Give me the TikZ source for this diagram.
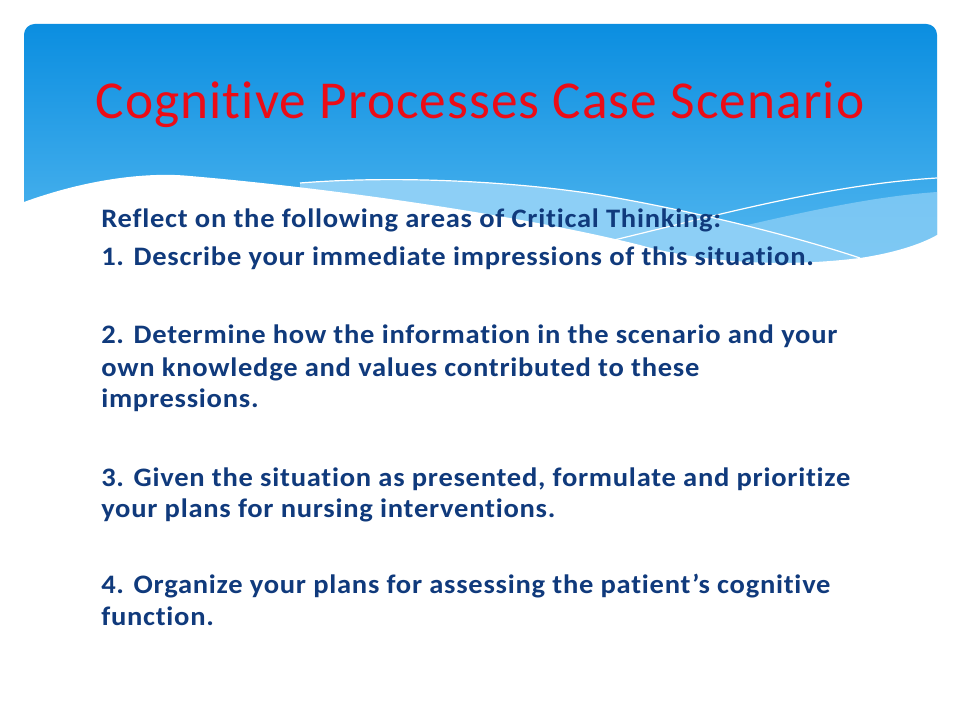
\documentclass[tikz,border=0pt]{standalone}
\usepackage{fontspec}
\setmainfont{Carlito}[Ligatures=NoCommon]
\newfontfamily\bodyfont{Carlito}[Ligatures=NoCommon,LetterSpace=2.8,FakeStretch=1.07,BoldFont={Carlito Bold}]
\newfontfamily\titlefont{Carlito}[Ligatures=NoCommon,LetterSpace=2.0]
\definecolor{boxtop}{RGB}{11,142,224}
\definecolor{boxbot}{RGB}{95,190,242}
\definecolor{lightband}{RGB}{141,207,246}
\definecolor{titlered}{RGB}{236,12,22}
\definecolor{bodyblue}{RGB}{16,58,124}
\begin{document}
\begin{tikzpicture}[x=0.75pt,y=-0.75pt,
  bodyline/.style={anchor=base west,inner sep=0pt,text=bodyblue,font=\bodyfont\fontsize{20}{24}\selectfont\bfseries},
  titletext/.style={anchor=base,inner sep=0pt,text=titlered,font=\titlefont\fontsize{40}{48}\selectfont},
  thinwhite/.style={draw=white,line width=0.9pt}]
\useasboundingbox (0,0) rectangle (960,720);
\fill[white] (0,0) rectangle (960,720);
% header box
\shade[top color=boxtop,bottom color=boxbot,rounded corners=8pt] (24,24) rectangle (937,300);
% light bands
\fill[lightband] (300,183) .. controls (400,175) and (520,182) .. (600,195)
   .. controls (700,212) and (800,238) .. (860,258) -- (860,300) -- (300,300) -- cycle;
\fill[lightband,opacity=0.75] (640,250) .. controls (750,225) and (850,198) .. (937,192) -- (937,300) -- (640,300) -- cycle;
% white wave
\fill[white] (20,204) -- (24,202) .. controls (90,178) and (150,172) .. (190,176)
   .. controls (330,188) and (520,215) .. (640,245)
   .. controls (700,262) and (780,268) .. (860,258)
   .. controls (900,252) and (925,242) .. (937,235) -- (945,235) -- (945,310) -- (15,310) -- cycle;
% thin white lines
\coordinate (a1) at (300,183);
\coordinate (a2) at (600,195);
\coordinate (a3) at (860,258);
\coordinate (b1) at (593,245);
\coordinate (b2) at (937,178);
\draw[thinwhite] (a1) .. controls (400,175) and (520,182) .. (a2)
   .. controls (700,212) and (800,238) .. (a3);
\draw[thinwhite] (b1) .. controls (700,220) and (820,185) .. (b2);
% title
\node[titletext] (title) at (480,118.5) {Cognitive Processes Case Scenario};
% body
\node[bodyline] (l0) at (101,228) {Reflect on the following areas of Critical Thinking:};
\node[bodyline] (l1) at (101,266) {1. Describe your immediate impressions of this situation.};
\node[bodyline] (l2a) at (101,344) {2. Determine how the information in the scenario and your};
\node[bodyline] (l2b) at (101,376) {own knowledge and values contributed to these};
\node[bodyline] (l2c) at (101,407) {impressions.};
\node[bodyline] (l3a) at (101,486) {3. Given the situation as presented, formulate and prioritize};
\node[bodyline] (l3b) at (101,517) {your plans for nursing interventions.};
\node[bodyline] (l4a) at (101,593) {4. Organize your plans for assessing the patient’s cognitive};
\node[bodyline] (l4b) at (101,625) {function.};
\end{tikzpicture}
\end{document}
